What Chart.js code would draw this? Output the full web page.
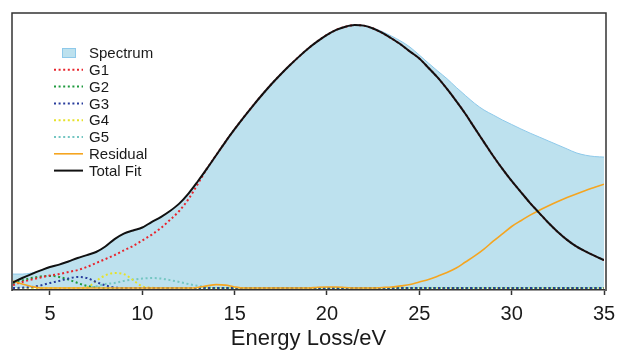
<!DOCTYPE html>
<html><head><meta charset="utf-8">
<script src="https://cdn.jsdelivr.net/npm/chart.js@4.4.0/dist/chart.umd.min.js"></script>
<style>html,body{margin:0;padding:0;background:#fff;}#wrap{width:617px;height:350px;position:relative;}</style>
</head><body><div id="wrap"><canvas id="c" width="617" height="350"></canvas></div>
<script>
const energy = [3,3.5,4,4.5,5,5.5,6,6.5,7,7.5,8,8.5,9,
  9.5,10,10.5,11,11.5,12,12.5,13,13.5,14,14.5,15,15.5,
  16,16.5,17,17.5,18,18.5,19,19.5,20,20.5,21,21.5,22,
  22.5,23,23.5,24,24.5,25,25.5,26,26.5,27,27.5,28,28.5,
  29,29.5,30,30.5,31,31.5,32,32.5,33,33.5,34,34.5,35];
const xTickValues = [5,10,15,20,25,30,35];

const spectrum = [5.3,5.3,5.7,6.7,8.0,8.9,10.1,11.4,12.5,13.7,15.8,18.6,20.7,
  21.9,23.0,25.1,27.0,29.3,32.1,35.9,40.5,45.4,50.5,55.6,60.4,65.0,
  69.4,73.6,77.6,81.3,84.8,88.1,91.2,93.9,96.3,98.2,99.4,100.0,99.8,
  98.9,97.5,95.8,93.9,91.6,88.6,85.5,82.5,79.6,76.3,73.2,70.2,67.7,
  65.8,63.9,62.2,60.5,58.9,57.4,55.9,54.4,52.9,51.4,50.5,50.0,49.8];
const g1 = [1.1,2.3,3.2,4.0,4.8,5.3,6.1,6.8,8.0,9.5,11.0,12.5,14.3,
  16.0,18.1,20.2,22.8,25.9,29.3,33.8,39.5,45.4,50.5,55.6,60.4,65.0,
  69.4,73.6,77.6,81.3,84.8,88.1,91.2,93.9,96.3,98.2,99.4,100.0,99.8,
  98.7,97.0,94.9,92.6,89.9,87.3,83.7,80.0,75.7,71.1,66.2,60.8,55.5,
  50.2,45.3,40.7,36.5,32.3,28.5,24.7,21.3,18.3,15.8,13.9,12.2,10.6];
const g2 = [1.9,2.9,3.8,4.4,4.6,4.2,3.2,1.9,0.8,0.2,0,0,0,
  0,0,0,0,0,0,0,0,0,0,0,0,0,
  0,0,0,0,0,0,0,0,0,0,0,0,0,
  0,0,0,0,0,0,0,0,0,0,0,0,0,
  0,0,0,0,0,0,0,0,0,0,0,0,0];
const g3 = [0,0.1,0.4,1.0,1.9,2.7,3.6,4.2,3.8,2.3,1.0,0.2,0,
  0,0,0,0,0,0,0,0,0,0,0,0,0,
  0,0,0,0,0,0,0,0,0,0,0,0,0,
  0,0,0,0,0,0,0,0,0,0,0,0,0,
  0,0,0,0,0,0,0,0,0,0,0,0,0];
const g4 = [0,0,0,0,0,0,0,0,0.2,2.7,4.8,5.7,5.3,
  3.0,0.6,0.1,0,0,0,0,0,0,0,0,0,0,
  0,0,0,0,0,0,0,0,0,0,0,0,0,
  0,0,0,0,0,0,0,0,0,0,0,0,0,
  0,0,0,0,0,0,0,0,0,0,0,0,0];
const g5 = [0,0,0,0,0,0,0,0,0.1,0.6,1.5,1.9,2.7,
  3.2,3.6,3.8,3.6,3.0,2.3,1.5,0.8,0.3,0,0,0,0,
  0,0,0,0,0,0,0,0,0,0,0,0,0,
  0,0,0,0,0,0,0,0,0,0,0,0,0,
  0,0,0,0,0,0,0,0,0,0,0,0,0];
const residual = [2.7,1.5,0.6,0,0,0,0,0,0,0,0,0,0,
  0,0,0,0,0,0,0,0.2,0.8,1.3,1.1,0.4,0,
  0,0,0,0,0,0,0,0.3,0.4,0.4,0.2,0,0,
  0,0.2,0.4,0.8,1.3,2.3,3.2,4.5,5.9,7.6,9.9,12.2,14.8,
  17.8,20.6,23.4,25.6,27.7,29.6,31.3,32.9,34.4,35.8,37.1,38.3,39.5];
const totalFit = [2.1,3.8,5.3,6.7,8.0,8.9,10.1,11.4,12.5,13.7,15.8,18.6,20.7,
  21.9,23.0,25.1,27.0,29.3,32.1,35.9,40.5,45.4,50.5,55.6,60.4,65.0,
  69.4,73.6,77.6,81.3,84.8,88.1,91.2,93.9,96.3,98.2,99.4,100.0,99.8,
  98.7,97.0,94.9,92.6,89.9,87.3,83.7,80.0,75.7,71.1,66.2,60.8,55.5,
  50.2,45.3,40.7,36.5,32.3,28.5,24.7,21.3,18.3,15.8,13.9,12.2,10.6];

const FONT = '"Liberation Sans", Arial, Helvetica, sans-serif';
const pts = arr => energy.map((e, i) => ({x: e, y: arr[i]}));
const dot = [2, 2.6];

const datasets = [
  {label:'Spectrum', data:pts(spectrum), fill:'origin', backgroundColor:'#bde1ee', borderColor:'#8ec9ea', borderWidth:1, order:10, isBox:true},
  {label:'G1', data:pts(g1), borderColor:'#e8242c', borderWidth:2, borderDash:dot, order:5},
  {label:'G2', data:pts(g2), borderColor:'#1e9a3e', borderWidth:2, borderDash:dot, order:7},
  {label:'G3', data:pts(g3), borderColor:'#283c9c', borderWidth:2, borderDash:dot, order:4},
  {label:'G4', data:pts(g4), borderColor:'#e6e22a', borderWidth:2, borderDash:dot, order:8},
  {label:'G5', data:pts(g5), borderColor:'#74c6c2', borderWidth:2, borderDash:dot, order:9},
  {label:'Residual', data:pts(residual), borderColor:'#f5a520', borderWidth:1.6, order:2},
  {label:'Total Fit', data:pts(totalFit), borderColor:'#111111', borderWidth:2, order:1}
];
datasets.forEach(d => { d.pointRadius = 0; d.cubicInterpolationMode = 'monotone'; if (d.fill === undefined) d.fill = false; });

const boxPlugin = {
  id: 'box',
  afterDraw(chart) {
    const a = chart.chartArea, c = chart.ctx;
    c.save();
    c.strokeStyle = '#333'; c.lineWidth = 1.5;
    c.beginPath();
    c.moveTo(a.left - 1, a.bottom + 1);
    c.lineTo(a.left - 1, a.top);
    c.lineTo(a.right + 2, a.top);
    c.lineTo(a.right + 2, a.bottom + 1);
    c.stroke();
    c.restore();
  }
};
const legendPlugin = {
  id: 'lg',
  afterDraw(chart) {
    const c = chart.ctx;
    c.save();
    c.font = '15px ' + FONT;
    c.textBaseline = 'middle';
    c.textAlign = 'left';
    chart.data.datasets.forEach((d, i) => {
      const y = 53 + i * 16.8;
      if (d.isBox) {
        c.fillStyle = d.backgroundColor;
        c.fillRect(62, y - 5, 14, 10);
        c.strokeStyle = d.borderColor; c.lineWidth = 1;
        c.strokeRect(62.5, y - 4.5, 13, 9);
      } else {
        c.strokeStyle = d.borderColor; c.lineWidth = d.borderWidth;
        c.setLineDash(d.borderDash || []);
        c.beginPath(); c.moveTo(54, y); c.lineTo(83, y); c.stroke();
        c.setLineDash([]);
      }
      c.fillStyle = '#1a1a1a';
      c.fillText(d.label, 89, y + 1);
    });
    c.restore();
  }
};

new Chart(document.getElementById('c'), {
  type: 'line',
  data: {datasets},
  options: {
    responsive: false,
    animation: false,
    devicePixelRatio: 1,
    layout: {padding: {left: 13, right: 13, top: 13, bottom: 0}},
    plugins: {legend: {display: false}, tooltip: {enabled: false}},
    scales: {
      x: {
        type: 'linear', min: 3, max: 35,
        afterBuildTicks: s => { s.ticks = xTickValues.map(v => ({value: v})); },
        afterFit: s => { s.height = 60; s.paddingLeft = 0; s.paddingRight = 0; },
        grid: {drawOnChartArea: false, drawTicks: true, tickLength: 5, color: '#333', tickWidth: 1.5},
        border: {display: true, color: '#333', width: 1.5},
        ticks: {color: '#1a1a1a', font: {family: FONT, size: 20, lineHeight: 1}, padding: 9, maxRotation: 0, autoSkip: false},
        title: {display: true, text: 'Energy Loss/eV', color: '#1a1a1a', font: {family: FONT, size: 22, lineHeight: 0.8}, padding: {top: 0, bottom: 2}}
      },
      y: {display: false, min: -0.76, max: 104.6}
    }
  },
  plugins: [boxPlugin, legendPlugin]
});
</script>
</body></html>
